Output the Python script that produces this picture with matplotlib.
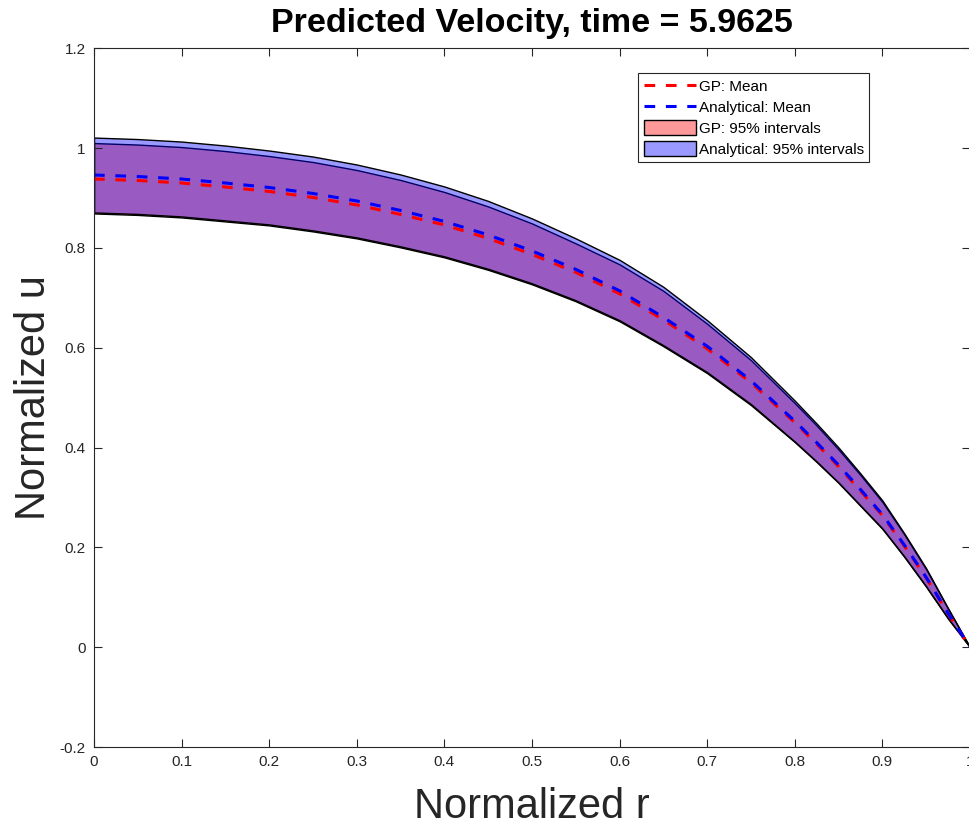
import matplotlib
matplotlib.use("Agg")
import matplotlib.pyplot as plt
import numpy as np

plt.rcParams['font.family'] = ['Liberation Sans', 'DejaVu Sans']

# radial positions
r = [0.0, 0.05, 0.1, 0.15, 0.2, 0.25, 0.3, 0.35, 0.4, 0.45, 0.5,
     0.55, 0.6, 0.65, 0.7, 0.75, 0.8, 0.825, 0.85, 0.875, 0.9, 0.925, 0.95, 0.975, 1.0]

# means
gp_mean = [0.938, 0.935, 0.930, 0.922, 0.913, 0.901, 0.886, 0.867, 0.846, 0.819, 0.787,
           0.751, 0.708, 0.656, 0.598, 0.530, 0.450, 0.407, 0.362, 0.313, 0.264, 0.203,
           0.139, 0.067, 0.0]
an_mean = [0.946, 0.943, 0.938, 0.930, 0.921, 0.909, 0.894, 0.875, 0.853, 0.826, 0.794,
           0.757, 0.714, 0.661, 0.603, 0.534, 0.453, 0.410, 0.365, 0.316, 0.266, 0.205,
           0.140, 0.068, 0.0]

# 95% interval bounds
gp_upper = [1.010, 1.007, 1.002, 0.994, 0.984, 0.972, 0.956, 0.936, 0.912, 0.883, 0.849,
            0.809, 0.767, 0.714, 0.648, 0.575, 0.489, 0.444, 0.396, 0.345, 0.291, 0.226,
            0.156, 0.077, 0.0]
gp_lower = [0.869, 0.866, 0.861, 0.853, 0.845, 0.833, 0.819, 0.801, 0.781, 0.756, 0.727,
            0.693, 0.653, 0.603, 0.549, 0.485, 0.411, 0.371, 0.329, 0.283, 0.237, 0.181,
            0.121, 0.057, 0.0]
an_upper = [1.021, 1.018, 1.013, 1.005, 0.995, 0.983, 0.967, 0.947, 0.923, 0.894, 0.859,
            0.819, 0.776, 0.722, 0.655, 0.581, 0.494, 0.448, 0.400, 0.348, 0.294, 0.228,
            0.158, 0.078, 0.0]
an_lower = [0.871, 0.868, 0.863, 0.855, 0.847, 0.835, 0.821, 0.803, 0.783, 0.758, 0.729,
            0.695, 0.655, 0.605, 0.551, 0.487, 0.412, 0.372, 0.330, 0.284, 0.238, 0.182,
            0.122, 0.058, 0.0]

xticks = [0, 0.1, 0.2, 0.3, 0.4, 0.5, 0.6, 0.7, 0.8, 0.9, 1]
xtick_labels = ["0", "0.1", "0.2", "0.3", "0.4", "0.5", "0.6", "0.7", "0.8", "0.9", "1"]
yticks = [-0.2, 0, 0.2, 0.4, 0.6, 0.8, 1, 1.2]
ytick_labels = ["-0.2", "0", "0.2", "0.4", "0.6", "0.8", "1", "1.2"]

gray = "#262626"

fig = plt.figure(figsize=(9.69, 8.27), dpi=100)
ax = fig.add_axes([0.097, 0.0967, 0.904, 0.845])

gp_fill = ax.fill_between(r, gp_lower, gp_upper, facecolor=(1, 0, 0, 0.4),
                          edgecolor='k', linewidth=1.0, label='GP: 95% intervals')
an_fill = ax.fill_between(r, an_lower, an_upper, facecolor=(0, 0, 1, 0.4),
                          edgecolor='k', linewidth=1.0, label='Analytical: 95% intervals')
gp_line, = ax.plot(r, gp_mean, color='red', linewidth=2.2, dashes=(3.5, 3.5),
                   label='GP: Mean')
an_line, = ax.plot(r, an_mean, color='blue', linewidth=2.2, dashes=(3.5, 3.5),
                   label='Analytical: Mean')

ax.set_xlim(0, 1)
ax.set_ylim(-0.2, 1.2)
ax.set_xticks(xticks)
ax.set_xticklabels(xtick_labels)
ax.set_yticks(yticks)
ax.set_yticklabels(ytick_labels)
ax.tick_params(direction='in', length=6, width=0.8, top=True, right=True,
               labelsize=11, colors=gray, pad=6)
for s in ax.spines.values():
    s.set_color(gray)
    s.set_linewidth(0.8)

ax.set_title("Predicted Velocity, time = 5.9625", fontsize=24.5, fontweight='bold',
             color='black', pad=12)
ax.set_xlabel("Normalized r", fontsize=30, color=gray, labelpad=13)
ax.set_ylabel("Normalized u", fontsize=30, color=gray, labelpad=4)

leg = ax.legend(handles=[gp_line, an_line, gp_fill, an_fill], loc='upper right',
                bbox_to_anchor=(0.885, 0.964), borderaxespad=0, fontsize=11,
                frameon=True, fancybox=False, framealpha=1, edgecolor=gray,
                handlelength=3.4, handleheight=1.1, handletextpad=0.2,
                labelspacing=0.35, borderpad=0.35)
leg.get_frame().set_linewidth(0.8)

fig.savefig("out.png", dpi=100)
